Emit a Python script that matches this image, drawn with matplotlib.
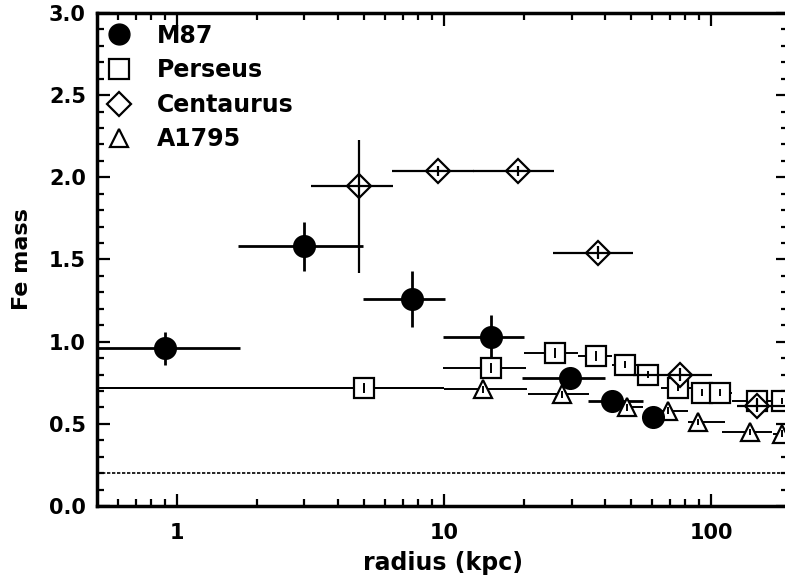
import numpy as np
import matplotlib
matplotlib.use("Agg")
import matplotlib.pyplot as plt
from matplotlib.ticker import FixedLocator, NullFormatter, MultipleLocator

# Fe mass profiles vs radius (kpc)
m87_r = [0.90, 3.0, 7.6, 15.0, 29.6, 42.5, 60.8]
m87_fe = [0.96, 1.58, 1.26, 1.03, 0.78, 0.64, 0.54]
m87_dfe = [0.10, 0.15, 0.17, 0.13, 0.04, 0.03, 0.03]
m87_rlo = [0.47, 1.69, 4.97, 9.9, 19.5, 34.6, 55.6]
m87_rhi = [1.72, 4.97, 10.1, 19.9, 40.0, 55.6, 70.0]

per_r = [5.0, 15.0, 26.0, 37.0, 47.6, 58.2, 75.3, 92.0, 108.0, 148.0, 184.0]
per_fe = [0.72, 0.84, 0.93, 0.915, 0.86, 0.80, 0.72, 0.69, 0.69, 0.64, 0.64]
per_dfe = [0.03, 0.03, 0.03, 0.03, 0.02, 0.02, 0.02, 0.02, 0.02, 0.02, 0.02]
per_rlo = [0.3, 9.9, 20.0, 31.7, 42.7, 53.0, 65.0, 85.0, 100.0, 120.0, 170.0]
per_rhi = [10.0, 20.2, 31.7, 42.7, 53.0, 65.0, 85.0, 100.0, 120.0, 170.0, 200.0]

cen_r = [4.8, 9.5, 18.9, 37.7, 76.5, 148.0]
cen_fe = [1.95, 2.04, 2.04, 1.54, 0.80, 0.61]
cen_up = [0.28, 0.03, 0.03, 0.04, 0.04, 0.04]
cen_dn = [0.53, 0.03, 0.03, 0.04, 0.04, 0.04]
cen_rlo = [3.17, 6.4, 12.8, 25.5, 51.0, 125.0]
cen_rhi = [6.45, 12.9, 25.8, 51.0, 101.0, 200.0]

a17_r = [5.0, 14.0, 27.6, 48.3, 69.2, 89.6, 140.0, 184.0]
a17_fe = [0.72, 0.71, 0.68, 0.60, 0.58, 0.51, 0.45, 0.44]
a17_dfe = [0.02, 0.02, 0.02, 0.02, 0.02, 0.02, 0.02, 0.02]
a17_rlo = [0.3, 10.0, 20.6, 42.0, 60.0, 82.0, 110.0, 170.0]
a17_rhi = [10.0, 20.5, 35.0, 55.6, 82.0, 113.0, 169.0, 200.0]

solar_level = 0.2

plt.rcParams['font.family'] = ['DejaVu Sans']
plt.rcParams['font.weight'] = 'bold'

fig = plt.figure(figsize=(7.85, 5.8), dpi=100)
# right spine sits just past the figure edge
ax = fig.add_axes([0.1236, 0.1276, 0.8803, 0.85])


def xerr_of(r, lo, hi):
    r = np.asarray(r)
    return [r - np.asarray(lo), np.asarray(hi) - r]


def draw(r, fe, yerr, lo, hi, marker, ms, filled, lw, err_on_top=False):
    xe = xerr_of(r, lo, hi)
    z_x = 4 if err_on_top else 2
    ax.errorbar(r, fe, xerr=xe, fmt='none', ecolor='black', elinewidth=lw,
                capsize=0, zorder=z_x)
    ax.errorbar(r, fe, yerr=yerr, fmt='none', ecolor='black', elinewidth=lw,
                capsize=0, zorder=4)
    face = 'black' if filled else 'white'
    ax.plot(r, fe, linestyle='none', marker=marker, ms=ms, mfc=face,
            mec='black', mew=1.6, zorder=3)


draw(a17_r, a17_fe, a17_dfe, a17_rlo, a17_rhi, '^', 13, False, 1.4)
draw(per_r, per_fe, per_dfe, per_rlo, per_rhi, 's', 15, False, 1.4)
draw(m87_r, m87_fe, m87_dfe, m87_rlo, m87_rhi, 'o', 15, True, 2.0)
draw(cen_r, cen_fe, [cen_dn, cen_up], cen_rlo, cen_rhi, 'D', 12, False, 1.6,
     err_on_top=True)

ax.axhline(solar_level, color='black', lw=1.2,
           dashes=[2.0, 1.0] * 18 + [1.0, 2.5, 1.0, 2.5], zorder=1)

ax.set_xscale('log')
ax.set_xlim(0.502, 194)
ax.set_ylim(0, 3.0)

ax.xaxis.set_major_locator(FixedLocator([1, 10, 100]))
ax.set_xticklabels(['1', '10', '100'])
ax.xaxis.set_minor_locator(FixedLocator(
    [m * 10.0 ** e for e in (-1, 0, 1, 2) for m in range(2, 10)]))
ax.xaxis.set_minor_formatter(NullFormatter())
ax.set_yticks(np.arange(0, 3.01, 0.5))
ax.set_yticklabels([f'{v:.1f}' for v in np.arange(0, 3.01, 0.5)])
ax.yaxis.set_minor_locator(MultipleLocator(0.1))

ax.tick_params(which='both', direction='in', top=True, right=True,
               width=1.6, labelsize=15, color='black')
ax.tick_params(which='major', length=9)
ax.tick_params(axis='y', which='major', pad=8)
ax.tick_params(axis='x', which='major', pad=12)
ax.tick_params(which='minor', length=5)
for s in ax.spines.values():
    s.set_linewidth(2.5)

ax.set_xlabel('radius (kpc)', fontsize=17, fontweight='bold', labelpad=6)
ax.set_ylabel('Fe mass', fontsize=16, fontweight='bold', labelpad=12)

handles = [
    plt.Line2D([], [], ls='none', marker='o', ms=15, mfc='black', mec='black'),
    plt.Line2D([], [], ls='none', marker='s', ms=15, mfc='white', mec='black', mew=1.6),
    plt.Line2D([], [], ls='none', marker='D', ms=12, mfc='white', mec='black', mew=1.6),
    plt.Line2D([], [], ls='none', marker='^', ms=13, mfc='white', mec='black', mew=1.6),
]
ax.legend(handles, ['M87', 'Perseus', 'Centaurus', 'A1795'], loc='upper left',
          frameon=False, fontsize=17, handlelength=1.0, handletextpad=1.1,
          labelspacing=0.45, borderaxespad=0.0, borderpad=0.45)

fig.savefig('out.png', dpi=100)
